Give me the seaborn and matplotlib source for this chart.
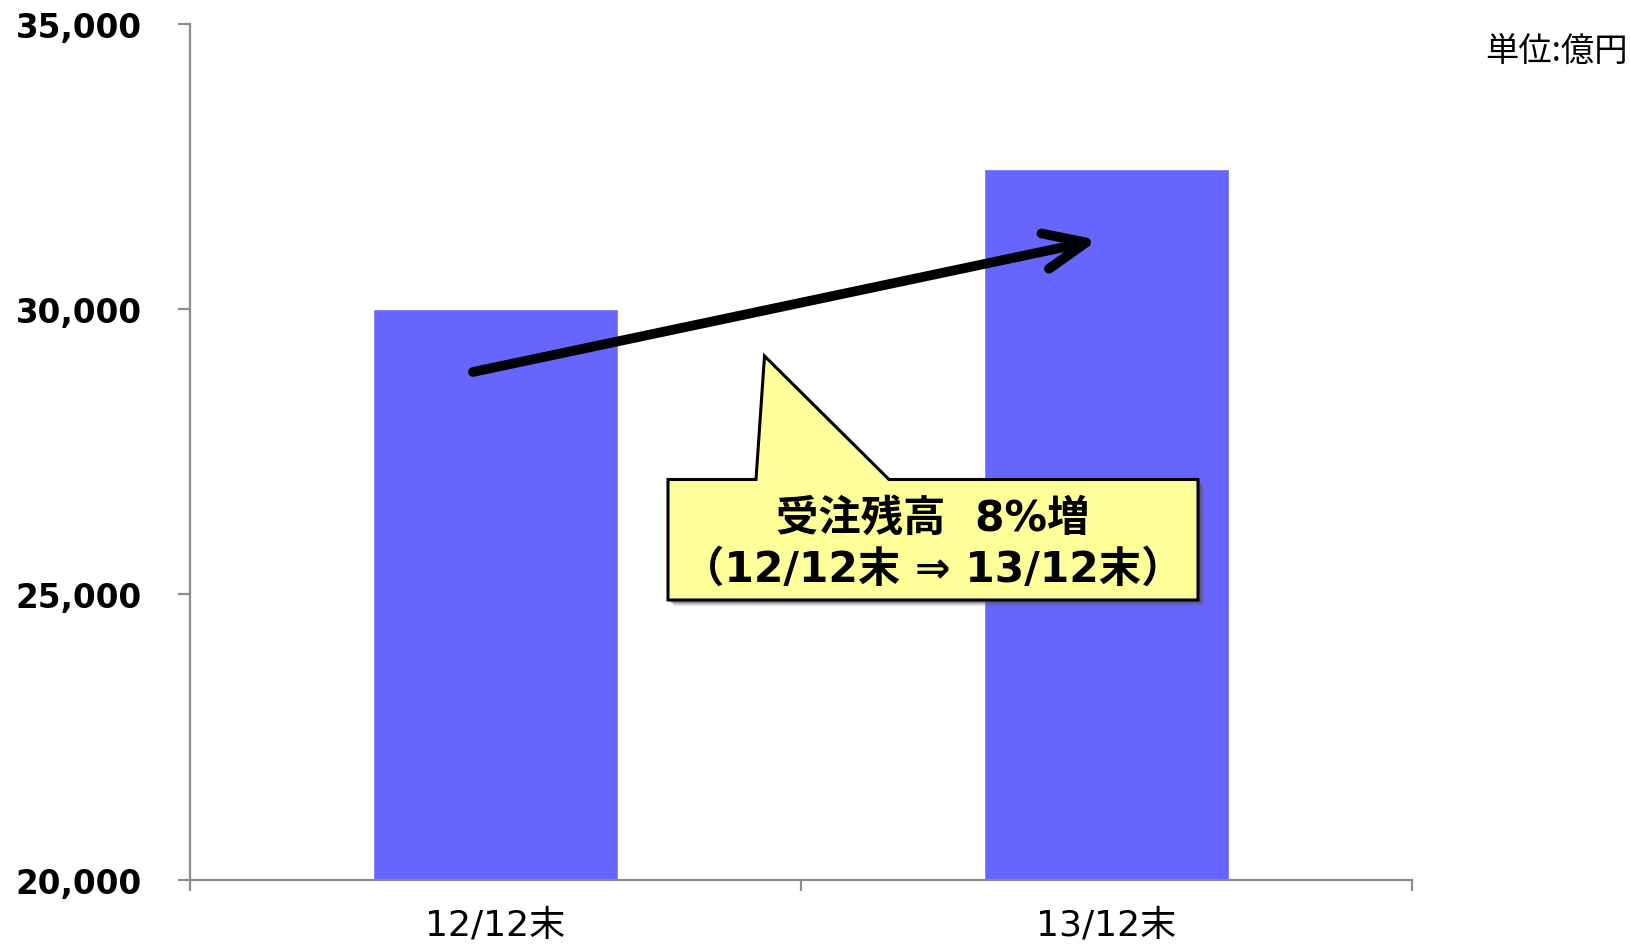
import matplotlib
matplotlib.use("Agg")
import matplotlib.pyplot as plt
import matplotlib.transforms as mtransforms
from matplotlib.patches import Polygon, FancyArrowPatch
import seaborn as sns
import pandas as pd

# ---- data ----
categories = ["12/12末", "13/12末"]
values = [30000, 32450]
y_ticks = [20000, 25000, 30000, 35000]
y_tick_labels = ["20,000", "25,000", "30,000", "35,000"]
unit_label = "単位:億円"
callout_line1 = "受注残高  8%増"
callout_line2 = "（12/12末 ⇒ 13/12末）"

sns.set_theme(style="white")
plt.rcParams["font.family"] = ["DejaVu Sans", "Noto Sans CJK JP"]
plt.rcParams["text.color"] = "black"
plt.rcParams["xtick.labelcolor"] = "black"
plt.rcParams["ytick.labelcolor"] = "black"

fig = plt.figure(figsize=(16.31, 9.45), dpi=100)
ax = fig.add_axes([190 / 1631, 1 - 880.7 / 945, 1222 / 1631, 855.7 / 945])

df = pd.DataFrame({"cat": categories, "val": values})
sns.barplot(data=df, x="cat", y="val", color="#6666FF", saturation=1,
            width=0.4, ax=ax, zorder=2)

ax.set_xlim(-0.5, 1.5)
ax.set_ylim(20000, 35000)
ax.set_xlabel("")
ax.set_ylabel("")

for s in ["top", "right"]:
    ax.spines[s].set_visible(False)
for s in ["left", "bottom"]:
    ax.spines[s].set_color("#8c8c8c")
    ax.spines[s].set_linewidth(1.6)
    ax.spines[s].set_zorder(3)

ax.set_yticks(y_ticks)
ax.set_yticklabels(y_tick_labels, fontsize=23.5, fontweight="bold",
                   family=["DejaVu Sans"], color="black")
ax.tick_params(axis="y", direction="out", length=8.5, width=1.6,
               color="#8c8c8c", pad=26, left=True)

ax.set_xticks([-0.5, 0.5, 1.5])
ax.set_xticklabels(["", "", ""])
ax.tick_params(axis="x", which="major", direction="out", length=8, width=1.6,
               color="#8c8c8c", bottom=True)
ax.set_xticks([0, 1], minor=True)
ax.set_xticklabels(categories, minor=True, fontsize=26, color="black",
                   family=["DejaVu Sans", "Noto Sans CJK JP"])
ax.tick_params(axis="x", which="minor", length=0, pad=20)

# ---- arrow ----
arrow = FancyArrowPatch((-0.037, 28900), (0.986, 31214),
                        arrowstyle="->,head_length=30,head_width=13",
                        mutation_scale=1, lw=7, color="black",
                        capstyle="round", joinstyle="round",
                        shrinkA=0, shrinkB=0, zorder=5)
ax.add_patch(arrow)

# ---- callout ----
def fx(px):
    return (px - 190) / 1222

def fy(py):
    return (880.7 - py) / 855.7

L, R, T, B = fx(668), fx(1198), fy(480.5), fy(601)
p1, p2 = fx(756), fx(889)
tip = (fx(764.5), fy(357))
pts = [(L, T), (p1, T), tip, (p2, T), (R, T), (R, B), (L, B)]
for off, a in [(6, 0.15), (4.5, 0.3), (3, 0.45)]:
    shadow_tr = mtransforms.offset_copy(ax.transAxes, fig=fig, x=off, y=-off,
                                        units="dots")
    ax.add_patch(Polygon(pts, closed=True, transform=shadow_tr,
                         facecolor="#555555", edgecolor="none", alpha=a,
                         zorder=6))
bubble = Polygon(pts, closed=True, transform=ax.transAxes, facecolor="#FFFF99",
                 edgecolor="black", lw=2.2, joinstyle="miter", zorder=7)
ax.add_patch(bubble)

cx = fx((668 + 1198) / 2)
ax.text(cx, fy(519), callout_line1, transform=ax.transAxes,
        ha="center", va="center", fontsize=30.5, fontweight="bold",
        family=["DejaVu Sans", "Noto Sans CJK JP"], zorder=8)
ax.text(cx, fy(570), callout_line2, transform=ax.transAxes,
        ha="center", va="center", fontsize=30.5, fontweight="bold",
        family=["DejaVu Sans", "Noto Sans CJK JP"], zorder=8)

fig.text(1628 / 1631, 1 - 51 / 945, unit_label, ha="right", va="center",
         fontsize=24, family=["Noto Sans CJK JP", "DejaVu Sans"])

fig.savefig("out.png", dpi=100)
